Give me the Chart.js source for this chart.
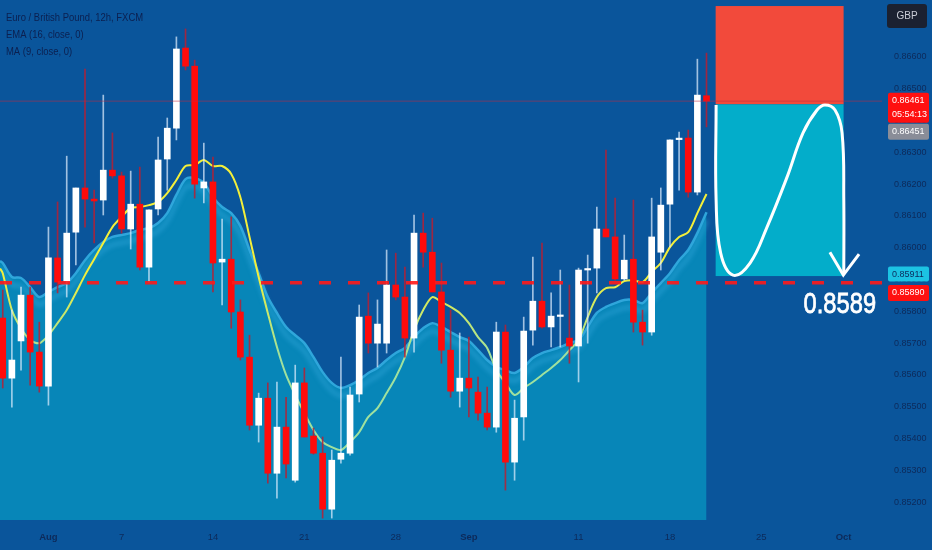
<!DOCTYPE html>
<html>
<head>
<meta charset="utf-8">
<script src="https://cdn.jsdelivr.net/npm/chart.js@4.4.1/dist/chart.umd.min.js"></script>
<style>
  html, body { margin: 0; padding: 0; background: #0a559b; }
  canvas { display: block; }
</style>
</head>
<body>
<canvas id="chart" width="932" height="550"></canvas>
<script>
// EUR/GBP 12h candles (index 0 = first bar on the left)
const opens = [
  0.85779, 0.85590, 0.85707, 0.85851, 0.85672, 0.85565, 0.85968, 0.85895, 0.86049, 0.86188,
  0.86153, 0.86150, 0.86244, 0.86226, 0.86059, 0.86137, 0.85939, 0.86122, 0.86279, 0.86376,
  0.86628, 0.86571, 0.86188, 0.86207, 0.85955, 0.85964, 0.85798, 0.85656, 0.85442, 0.85527,
  0.85291, 0.85436, 0.85269, 0.85575, 0.85408, 0.85354, 0.85178, 0.85335, 0.85354, 0.85540,
  0.85785, 0.85700, 0.85700, 0.85883, 0.85845, 0.85716, 0.86046, 0.85986, 0.85861, 0.85678,
  0.85549, 0.85590, 0.85546, 0.85480, 0.85436, 0.85735, 0.85326, 0.85468, 0.85741, 0.85832,
  0.85751, 0.85784, 0.85716, 0.85691, 0.85930, 0.85936, 0.86059, 0.86034, 0.85902, 0.85964,
  0.85766, 0.85735, 0.85986, 0.86137, 0.86340, 0.86345, 0.86175, 0.86478,
];
const highs = [
  0.85867, 0.85804, 0.85876, 0.85876, 0.85766, 0.86065, 0.86144, 0.86288, 0.86188, 0.86562,
  0.86181, 0.86480, 0.86361, 0.86238, 0.86241, 0.86254, 0.86119, 0.86348, 0.86408, 0.86663,
  0.86688, 0.86590, 0.86329, 0.86285, 0.86090, 0.86097, 0.85836, 0.85725, 0.85543, 0.85575,
  0.85578, 0.85530, 0.85631, 0.85622, 0.85433, 0.85405, 0.85364, 0.85656, 0.85562, 0.85820,
  0.85858, 0.85836, 0.85993, 0.85983, 0.85939, 0.86103, 0.86109, 0.86093, 0.85952, 0.85804,
  0.85732, 0.85719, 0.85593, 0.85562, 0.85766, 0.85757, 0.85521, 0.85782, 0.85971, 0.86015,
  0.85858, 0.85930, 0.85883, 0.85936, 0.85977, 0.86128, 0.86307, 0.86156, 0.86040, 0.86150,
  0.85804, 0.86156, 0.86188, 0.86339, 0.86364, 0.86370, 0.86593, 0.86612,
];
const lows = [
  0.85559, 0.85499, 0.85615, 0.85568, 0.85546, 0.85505, 0.85858, 0.85845, 0.85946, 0.86065,
  0.86015, 0.86103, 0.86219, 0.86046, 0.85996, 0.85930, 0.85892, 0.86103, 0.86181, 0.86339,
  0.86559, 0.86156, 0.86141, 0.85861, 0.85820, 0.85747, 0.85647, 0.85427, 0.85389, 0.85260,
  0.85213, 0.85276, 0.85263, 0.85405, 0.85351, 0.85150, 0.85150, 0.85323, 0.85348, 0.85515,
  0.85669, 0.85625, 0.85669, 0.85836, 0.85656, 0.85672, 0.85939, 0.85861, 0.85637, 0.85530,
  0.85499, 0.85468, 0.85458, 0.85427, 0.85420, 0.85238, 0.85269, 0.85395, 0.85694, 0.85747,
  0.85688, 0.85688, 0.85637, 0.85578, 0.85700, 0.85858, 0.86034, 0.85898, 0.85898, 0.85735,
  0.85694, 0.85725, 0.85930, 0.86002, 0.86181, 0.86159, 0.86166, 0.86380,
];
const closes = [
  0.85590, 0.85647, 0.85851, 0.85672, 0.85565, 0.85968, 0.85892, 0.86046, 0.86188, 0.86153,
  0.86147, 0.86244, 0.86226, 0.86059, 0.86137, 0.85939, 0.86119, 0.86276, 0.86376, 0.86625,
  0.86571, 0.86200, 0.86207, 0.85952, 0.85964, 0.85798, 0.85656, 0.85442, 0.85527, 0.85291,
  0.85436, 0.85320, 0.85575, 0.85405, 0.85354, 0.85178, 0.85332, 0.85354, 0.85537, 0.85782,
  0.85700, 0.85760, 0.85883, 0.85845, 0.85716, 0.86046, 0.85986, 0.85861, 0.85678, 0.85549,
  0.85590, 0.85559, 0.85480, 0.85436, 0.85735, 0.85326, 0.85464, 0.85738, 0.85832, 0.85751,
  0.85785, 0.85787, 0.85691, 0.85930, 0.85933, 0.86059, 0.86034, 0.85902, 0.85961, 0.85766,
  0.85735, 0.86034, 0.86134, 0.86339, 0.86343, 0.86175, 0.86480, 0.86461,
];

// EMA (16) drawn as area, MA (9) drawn as yellow line
const emaValues = [
  0.85952, 0.85908, 0.85905, 0.85876, 0.85845, 0.85861, 0.85876, 0.85889, 0.85920, 0.85961,
  0.85993, 0.86018, 0.86034, 0.86040, 0.86046, 0.86056, 0.86062, 0.86078, 0.86109, 0.86166,
  0.86216, 0.86219, 0.86204, 0.86159, 0.86128, 0.86109, 0.86068, 0.85993, 0.85920, 0.85845,
  0.85795, 0.85751, 0.85725, 0.85700, 0.85656, 0.85609, 0.85575, 0.85559, 0.85568, 0.85584,
  0.85606, 0.85622, 0.85647, 0.85669, 0.85685, 0.85719, 0.85747, 0.85763, 0.85751, 0.85735,
  0.85719, 0.85707, 0.85678, 0.85647, 0.85625, 0.85615, 0.85606, 0.85625, 0.85653, 0.85669,
  0.85678, 0.85688, 0.85700, 0.85710, 0.85751, 0.85795, 0.85814, 0.85826, 0.85836, 0.85836,
  0.85826, 0.85858, 0.85889, 0.85920, 0.85961, 0.85993, 0.86046, 0.86112,
];
const maValues = [
  0.85920, 0.85804, 0.85747, 0.85710, 0.85700, 0.85725, 0.85763, 0.85804, 0.85858, 0.85914,
  0.85964, 0.86015, 0.86065, 0.86097, 0.86125, 0.86128, 0.86134, 0.86144, 0.86172, 0.86213,
  0.86257, 0.86260, 0.86276, 0.86257, 0.86257, 0.86232, 0.86159, 0.86034, 0.85908, 0.85795,
  0.85688, 0.85600, 0.85537, 0.85480, 0.85427, 0.85389, 0.85373, 0.85364, 0.85389, 0.85420,
  0.85468, 0.85496, 0.85543, 0.85593, 0.85656, 0.85741, 0.85804, 0.85845, 0.85829, 0.85814,
  0.85795, 0.85763, 0.85719, 0.85685, 0.85615, 0.85575, 0.85537, 0.85559, 0.85578, 0.85600,
  0.85622, 0.85647, 0.85678, 0.85710, 0.85782, 0.85845, 0.85873, 0.85876, 0.85895, 0.85898,
  0.85892, 0.85924, 0.85952, 0.86002, 0.86034, 0.86049, 0.86109, 0.86169,
];
// values where both lines leave the left edge
const emaEdge = 0.85958;
const maEdge  = 0.85935;

const xTickIdx    = [5, 13, 23, 33, 43, 51, 63, 73, 83, 92];
const xTickLabels = ['Aug', '7', '14', '21', '28', 'Sep', '11', '18', '25', 'Oct'];
const monthLabels = ['Aug', 'Sep', 'Oct'];
const yTicks = [0.852, 0.853, 0.854, 0.855, 0.856, 0.857, 0.858, 0.859, 0.860,
                0.861, 0.862, 0.863, 0.864, 0.865, 0.866];

const xRange = [-0.3, 96.2];
const yRange = [0.85144, 0.86779];

// short position drawing
const boxRange     = [78, 92];
const stopPrice    = 0.86760;
const entryPrice   = 0.86451;
const targetPrice  = 0.85911;
const lastPrice    = 0.86461;
const supportLevel = 0.85890;
const countdown    = '05:54:13';

// hand-drawn path inside the box
const curveX = [78.05, 78.05, 78.55, 79.9, 81.76, 83.62, 85.81, 87.56, 89.09, 89.96, 91.06, 91.83, 92.02, 92.02];
const curveY = [0.86449, 0.86150, 0.85983, 0.85914, 0.85952, 0.86065, 0.86222, 0.86361, 0.86433, 0.86449, 0.86433, 0.86361, 0.86150, 0.85920];
const arrowX = [90.5, 91.97, 93.69];
const arrowY = [0.85986, 0.85914, 0.85980];

const idx = closes.map((_, i) => i);
const isUp = idx.map(i => closes[i] >= opens[i]);
const FONT = "'Liberation Sans', Arial, sans-serif";
const AXIS_TEXT = '#0d2a5a';

const overlay = {
    id: 'overlay',
    beforeDatasetsDraw(chart) {
        const { ctx, scales: { x, y } } = chart;
        const x0 = x.getPixelForValue(boxRange[0]);
        const x1 = x.getPixelForValue(boxRange[1]);
        const yS = y.getPixelForValue(stopPrice);
        const yE = y.getPixelForValue(entryPrice);
        const yT = y.getPixelForValue(targetPrice);
        ctx.save();
        ctx.fillStyle = '#f24a3b';
        ctx.fillRect(x0, yS, x1 - x0, yE - yS);
        ctx.fillStyle = '#03adca';
        ctx.fillRect(x0, yE, x1 - x0, yT - yE);
        ctx.restore();
    },
    // lighter band just under the EMA edge
    beforeDatasetDraw(chart, args) {
        if (args.index !== 0) return;
        const c = chart.ctx;
        c.shadowColor = 'rgba(55,170,222,0.8)';
        c.shadowBlur = 5;
        c.shadowOffsetY = 8;
    },
    afterDatasetDraw(chart, args) {
        if (args.index !== 0) return;
        const c = chart.ctx;
        c.shadowColor = 'rgba(0,0,0,0)';
        c.shadowBlur = 0;
        c.shadowOffsetY = 0;
    },
    afterDraw(chart) {
        const { ctx, scales: { x, y } } = chart;
        ctx.save();

        // top-left legend
        ctx.save();
        ctx.scale(0.9, 1);
        ctx.fillStyle = '#0c2050';
        ctx.font = `10.5px ${FONT}`;
        ctx.fillText('Euro / British Pound, 12h, FXCM', 6 / 0.9, 20.5);
        ctx.fillText('EMA (16, close, 0)', 6 / 0.9, 37.5);
        ctx.fillText('MA (9, close, 0)', 6 / 0.9, 55);
        ctx.restore();

        // big level label
        const bx = x.getPixelForValue(95.55);
        const by = y.getPixelForValue(supportLevel) + 30;
        ctx.save();
        ctx.scale(0.79, 1);
        ctx.fillStyle = '#ffffff';
        ctx.strokeStyle = '#ffffff';
        ctx.lineWidth = 0.8;
        ctx.font = `30px ${FONT}`;
        ctx.textAlign = 'right';
        ctx.fillText(supportLevel.toFixed(4), bx / 0.79, by);
        ctx.strokeText(supportLevel.toFixed(4), bx / 0.79, by);
        ctx.restore();

        // price tags on the axis
        const tag = (lines, top, h, bg, fg) => {
            ctx.fillStyle = bg;
            ctx.beginPath();
            ctx.roundRect(888, top, 41, h, 2);
            ctx.fill();
            ctx.fillStyle = fg;
            ctx.font = `9px ${FONT}`;
            ctx.textAlign = 'left';
            ctx.textBaseline = 'middle';
            lines.forEach((t, k) => ctx.fillText(t, 892, top + 7.5 + k * 14));
        };
        const yLast = y.getPixelForValue(lastPrice);
        tag([lastPrice.toFixed(5), countdown], yLast - 8.5, 30, '#ff1010', '#ffffff');
        tag([entryPrice.toFixed(5)], yLast + 22.5, 16, '#8a8d98', '#ffffff');
        const yT = y.getPixelForValue(targetPrice);
        tag([targetPrice.toFixed(5)], yT - 9.5, 15, '#1cc3e3', '#0c2b5c');
        tag([supportLevel.toFixed(5)], yT + 9, 16, '#ff1010', '#ffffff');

        // currency box
        ctx.fillStyle = '#1b2131';
        ctx.beginPath();
        ctx.roundRect(887, 4, 40, 24, 3);
        ctx.fill();
        ctx.fillStyle = '#c9ccd6';
        ctx.font = `10px ${FONT}`;
        ctx.textAlign = 'center';
        ctx.textBaseline = 'middle';
        ctx.fillText('GBP', 907, 16.5);
        ctx.restore();
    },
};

const flat = (level) => [{ x: xRange[0], y: level }, { x: xRange[1], y: level }];

new Chart(document.getElementById('chart'), {
    type: 'bar',
    data: {
        datasets: [
            {
                type: 'line',
                label: 'EMA',
                data: [{ x: xRange[0], y: emaEdge }, ...idx.map(i => ({ x: i, y: emaValues[i] }))],
                borderColor: '#2fa6db',
                borderWidth: 2.5,
                backgroundColor: '#0786b8',
                fill: 'start',
                pointRadius: 0,
                tension: 0.3,
                order: 10,
            },
            {
                type: 'line',
                label: 'MA',
                data: [{ x: xRange[0], y: maEdge }, ...idx.map(i => ({ x: i, y: maValues[i] }))],
                borderColor: (c) => {
                    const { chart } = c;
                    if (!chart.chartArea) return '#f2ee3c';
                    const ys = chart.scales.y;
                    const g = chart.ctx.createLinearGradient(0, ys.getPixelForValue(0.8592), 0, ys.getPixelForValue(0.8566));
                    g.addColorStop(0, '#f3ef3a');
                    g.addColorStop(1, '#9fe19e');
                    return g;
                },
                borderWidth: 2,
                pointRadius: 0,
                tension: 0.3,
                order: 8,
            },
            {
                label: 'wicks',
                data: idx.map(i => ({ x: i, y: [lows[i], highs[i]] })),
                backgroundColor: isUp.map(u => u ? 'rgba(225,240,255,0.7)' : 'rgba(185,30,50,0.85)'),
                barThickness: 1,
                grouped: false,
                order: 6,
            },
            {
                label: 'bodies',
                data: idx.map(i => ({ x: i, y: [opens[i], closes[i]] })),
                backgroundColor: isUp.map(u => u ? '#ffffff' : '#ff0b0b'),
                barThickness: 6,
                minBarLength: 1.5,
                grouped: false,
                order: 5,
            },
            {
                type: 'line',
                label: 'last',
                data: flat(lastPrice),
                borderColor: 'rgba(190,45,70,0.55)',
                borderWidth: 1,
                pointRadius: 0,
                order: 4,
            },
            {
                type: 'line',
                label: 'level',
                data: flat(supportLevel),
                borderColor: 'rgba(255,25,25,0.9)',
                borderWidth: 3.5,
                borderDash: [12, 17],
                pointRadius: 0,
                order: 3,
            },
            {
                type: 'line',
                label: 'path',
                data: curveX.map((v, i) => ({ x: v, y: curveY[i] })),
                borderColor: '#ffffff',
                borderWidth: 3,
                pointRadius: 0,
                tension: 0.4,
                order: 2,
            },
            {
                type: 'line',
                label: 'arrow',
                data: arrowX.map((v, i) => ({ x: v, y: arrowY[i] })),
                borderColor: '#ffffff',
                borderWidth: 3,
                pointRadius: 0,
                order: 1,
            },
        ],
    },
    options: {
        responsive: false,
        animation: false,
        layout: { padding: 0 },
        plugins: {
            legend: { display: false },
            tooltip: { enabled: false },
        },
        scales: {
            x: {
                type: 'linear',
                offset: false,
                min: xRange[0],
                max: xRange[1],
                grid: { display: false, drawTicks: false },
                border: { display: false },
                afterFit: (s) => { s.height = 30; s.paddingLeft = 0; s.paddingRight = 0; },
                afterBuildTicks: (s) => { s.ticks = xTickIdx.map(v => ({ value: v })); },
                ticks: {
                    color: AXIS_TEXT,
                    padding: 12,
                    maxRotation: 0,
                    autoSkip: false,
                    font: (c) => ({
                        family: FONT,
                        size: 9.5,
                        weight: c.tick && monthLabels.includes(xTickLabels[xTickIdx.indexOf(c.tick.value)]) ? 'bold' : 'normal',
                    }),
                    callback: (v) => xTickLabels[xTickIdx.indexOf(v)],
                },
            },
            y: {
                position: 'right',
                min: yRange[0],
                max: yRange[1],
                grid: { display: false, drawTicks: false },
                border: { display: false },
                afterFit: (s) => { s.width = 50; s.paddingTop = 0; s.paddingBottom = 0; },
                afterBuildTicks: (s) => { s.ticks = yTicks.map(v => ({ value: v })); },
                ticks: {
                    color: AXIS_TEXT,
                    padding: 12,
                    font: { family: FONT, size: 9 },
                    callback: (v) => v.toFixed(5),
                },
            },
        },
    },
    plugins: [overlay],
});
</script>
</body>
</html>
